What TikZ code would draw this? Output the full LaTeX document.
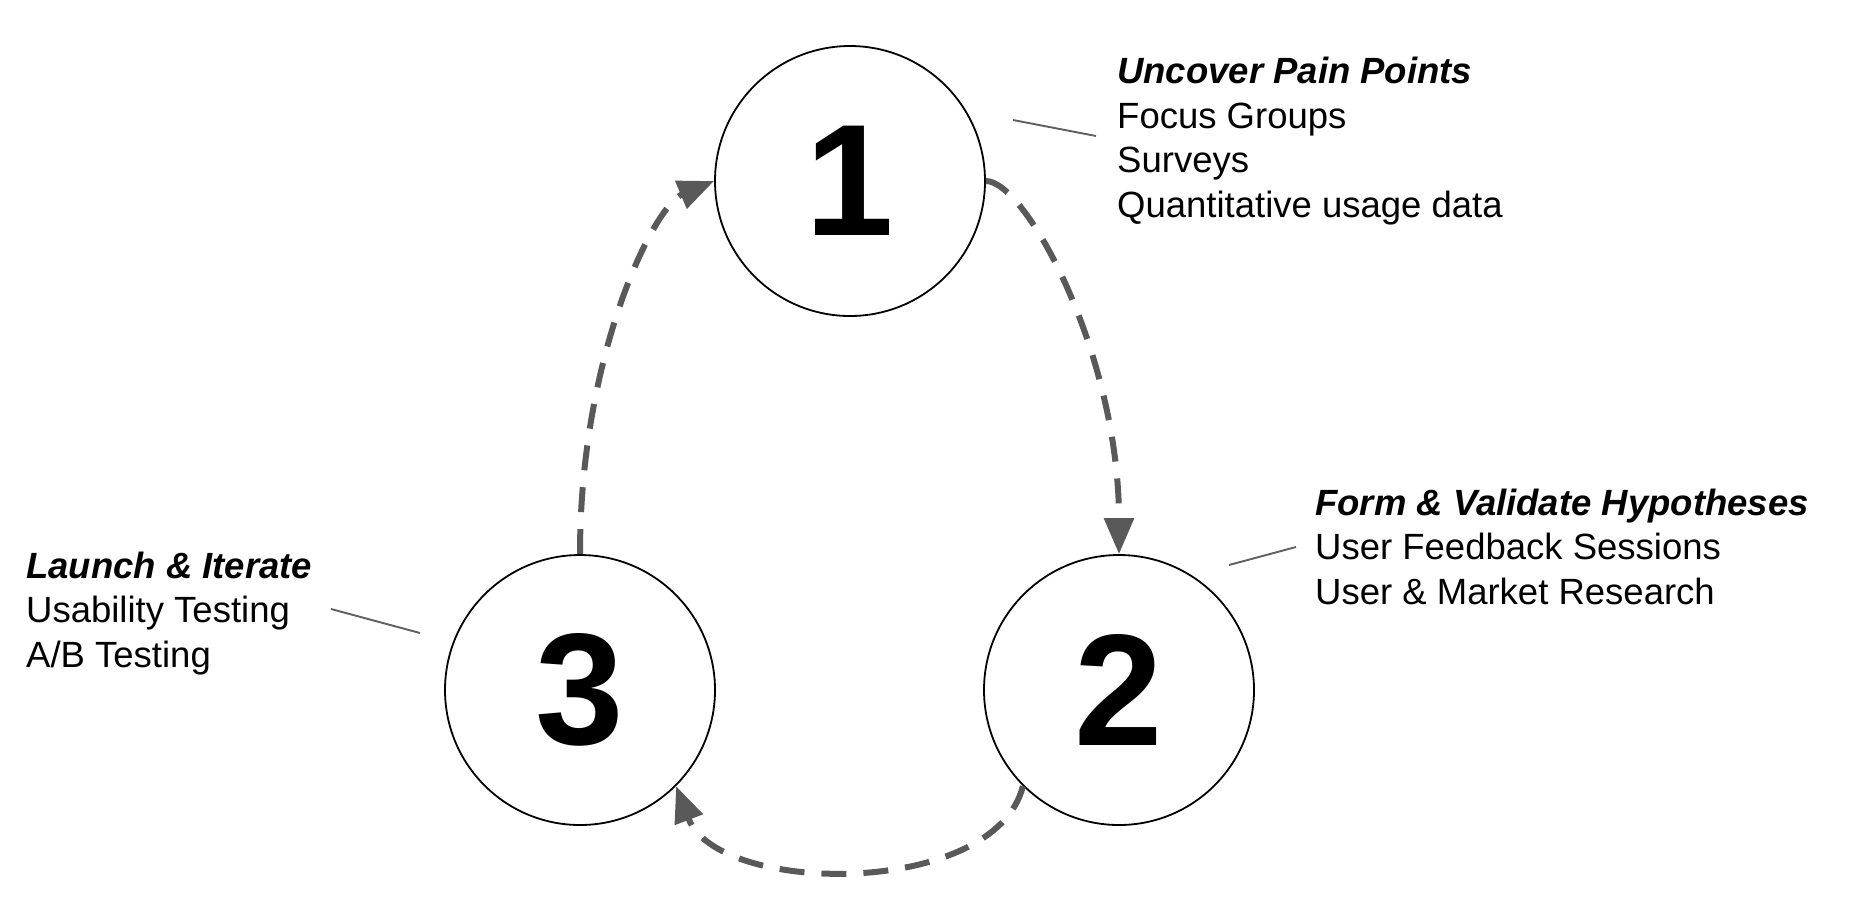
\documentclass[tikz,border=0pt]{standalone}
\usepackage{fontspec}
\setmainfont{Liberation Sans}
\usetikzlibrary{arrows.meta}
\definecolor{arrowgray}{HTML}{595959}
\definecolor{leadgray}{HTML}{5f5f5f}
\begin{document}
\begin{tikzpicture}[x=1pt,y=-1pt,
  stage/.style={circle, draw=black, line width=1.8pt, minimum size=270pt, inner sep=0pt, font=\fontsize{159}{159}\selectfont\bfseries},
  info/.style={anchor=base west, align=left, inner sep=0pt, font=\fontsize{36.5}{44.5}\selectfont},
  leader/.style={draw=leadgray, line width=1.9pt},
  flow/.style={draw=arrowgray, line width=6pt, dash pattern=on 25pt off 17pt, -{Triangle[length=36pt,width=29pt]}}
]
\useasboundingbox (0,0) rectangle (1858,922);
\node[stage] (c1) at (850,181) {1};
\node[stage] (c2) at (1119,690) {2};
\node[stage] (c3) at (580,690) {3};

% base anchor is the baseline of the last line
\node[info] (t1) at (1117,217) {\textbf{\textit{Uncover Pain Points}}\\Focus Groups\\Surveys\\Quantitative usage data};
\node[info] (t2) at (1315,604) {\textbf{\textit{Form \& Validate Hypotheses}}\\User Feedback Sessions\\User \& Market Research};
\node[info] (t3) at (26,667) {\textbf{\textit{Launch \& Iterate}}\\Usability Testing\\A/B Testing};

\coordinate (l1a) at (1013,120);
\coordinate (l1b) at (1096,136);
\coordinate (l2a) at (1229,565);
\coordinate (l2b) at (1296,547);
\coordinate (l3a) at (331,609);
\coordinate (l3b) at (420,633);
\draw[leader] (l1a) -- (l1b);
\draw[leader] (l2a) -- (l2b);
\draw[leader] (l3a) -- (l3b);

\draw[flow] (c1.east) .. controls +(40,0) and +(0,-200) .. (c2.north);
\draw[flow] (c2.south west) .. controls +(-28,112) and +(42,110) .. (c3.south east);
\draw[flow] (c3.north) .. controls +(0,-200) and +(-60,25) .. (c1.west);
\end{tikzpicture}
\end{document}
